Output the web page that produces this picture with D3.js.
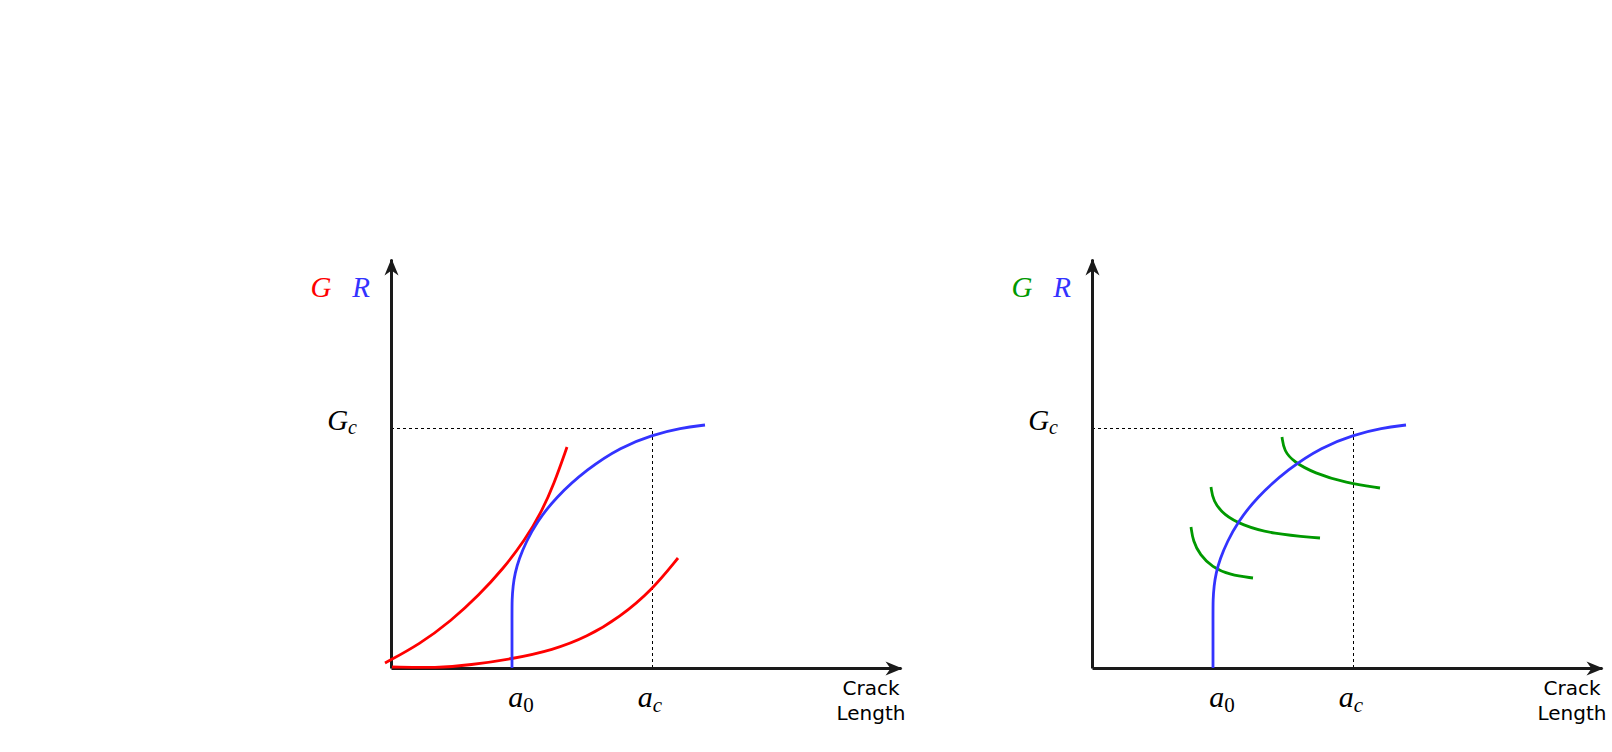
<!DOCTYPE html>
<html>
<head>
<meta charset="utf-8">
<script src="https://cdn.jsdelivr.net/npm/d3@7"></script>
<style>
	html, body { margin: 0; padding: 0; background: #fff; }
	svg { display: block; }
	.math { font-family: "Liberation Serif", "Times New Roman", serif; font-style: italic; }
	.axis-title { font-family: "Comic Sans MS", "DejaVu Sans", sans-serif; font-size: 20px; fill: #000; }
</style>
</head>
<body>
<svg id="chart" width="1612" height="752"></svg>
<script>
(function () {
	"use strict";

	// crack length (x) and energy release / resistance (y), arbitrary units
	var xMax = 5.1;
	var yMax = 4.09;
	var gcValue = 2.40;

	var crackTicks = [
		{ name: 'a', sub: '0', value: 1.21 },
		{ name: 'a', sub: 'c', value: 2.61 }
	];

	// R-curve (same material in both panels)
	var rCurve = [[1.21, 0], [1.21, 0.55], [1.21, 0.68], [1.22, 0.82], [1.24, 0.95], [1.28, 1.09],
		[1.35, 1.26], [1.46, 1.46], [1.64, 1.70], [1.96, 1.99], [2.30, 2.21], [2.61, 2.33], [2.90, 2.40], [3.14, 2.43]];

	// left panel: G curves for two load levels
	var gUpper = [[-0.06, 0.05], [0.29, 0.24], [0.60, 0.47], [0.88, 0.73], [1.12, 0.99],
		[1.34, 1.28], [1.50, 1.55], [1.63, 1.84], [1.76, 2.21]];
	var gLower = [[0.01, 0.01], [0.46, 0.00], [0.79, 0.03], [1.21, 0.09], [1.62, 0.18],
		[1.96, 0.31], [2.29, 0.51], [2.61, 0.78], [2.87, 1.10]];

	// right panel: G curves that fall with crack length
	var gFallA = [[0.99, 1.41], [1.01, 1.27], [1.08, 1.13], [1.20, 1.01], [1.38, 0.93], [1.61, 0.90]];
	var gFallB = [[1.19, 1.81], [1.21, 1.67], [1.32, 1.53], [1.50, 1.43], [1.80, 1.34], [2.28, 1.30]];
	var gFallC = [[1.90, 2.31], [1.92, 2.17], [2.02, 2.06], [2.22, 1.95], [2.54, 1.85], [2.88, 1.80]];

	var axisColor = '#1A1A1A';
	var rColor = '#3333FF';

	var panels = [
		{ left: 391, gColor: '#FF0000', gCurves: [gUpper, gLower] },
		{ left: 1092, gColor: '#009900', gCurves: [gFallA, gFallB, gFallC] }
	];

	var top = 259, width = 510, height = 409;
	var tickNudge = [9, -2];

	var svg = d3.select('#chart');

	var defs = svg.append('defs');
	[['arrow-x', 0], ['arrow-y', -90]].forEach(function (m) {
		defs.append('marker')
			.attr('id', m[0])
			.attr('markerUnits', 'userSpaceOnUse')
			.attr('viewBox', '-17 -8 18 16')
			.attr('refX', 0)
			.attr('refY', 0)
			.attr('markerWidth', 18)
			.attr('markerHeight', 16)
			.attr('orient', m[1])
			.append('path')
			.attr('d', 'M1,0L-16,-7L-11,0L-16,7Z')
			.attr('fill', axisColor);
	});

	var x = d3.scaleLinear().domain([0, xMax]).range([0, width]);
	var y = d3.scaleLinear().domain([0, yMax]).range([height, 0]);

	var line = d3.line()
		.x(function (d) { return x(d[0]); })
		.y(function (d) { return y(d[1]); })
		.curve(d3.curveBasis);

	panels.forEach(function (panel) {
		var g = svg.append('g')
			.attr('transform', 'translate(' + panel.left + ',' + top + ')');

		var acValue = crackTicks[1].value;

		// dashed guide to G_c and a_c, snapped to the pixel grid
		g.append('path')
			.attr('d', 'M' + x(0) + ',' + (Math.round(y(gcValue)) + 0.5) +
				'H' + (Math.round(x(acValue)) + 0.5) + 'V' + y(0))
			.attr('fill', 'none')
			.attr('stroke', '#000')
			.attr('stroke-width', 1)
			.attr('stroke-dasharray', '3,3');

		var xAxis = g.append('g')
			.attr('transform', 'translate(0,' + height + ')')
			.call(d3.axisBottom(x).tickValues([]).tickSizeOuter(0));
		xAxis.select('.domain')
			.attr('stroke', axisColor)
			.attr('stroke-width', 3)
			.attr('marker-end', 'url(#arrow-x)');

		var yAxis = g.append('g')
			.call(d3.axisLeft(y).tickValues([]).tickSizeOuter(0));
		yAxis.select('.domain')
			.attr('stroke', axisColor)
			.attr('stroke-width', 3)
			.attr('marker-end', 'url(#arrow-y)');

		g.selectAll('.g-curve')
			.data(panel.gCurves)
			.enter()
			.append('path')
			.classed('g-curve', true)
			.attr('d', line)
			.attr('fill', 'none')
			.attr('stroke', panel.gColor)
			.attr('stroke-width', 2.8);

		g.append('path')
			.datum(rCurve)
			.attr('d', line)
			.attr('fill', 'none')
			.attr('stroke', rColor)
			.attr('stroke-width', 2.8);

		// y label: G  R
		g.append('text')
			.classed('math', true)
			.attr('x', x(0) - 70)
			.attr('y', 38)
			.attr('text-anchor', 'middle')
			.attr('font-size', 29)
			.attr('fill', panel.gColor)
			.text('G');
		g.append('text')
			.classed('math', true)
			.attr('x', x(0) - 30)
			.attr('y', 38)
			.attr('text-anchor', 'middle')
			.attr('font-size', 29)
			.attr('fill', rColor)
			.text('R');

		var gc = g.append('text')
			.classed('math', true)
			.attr('x', x(0) - 34)
			.attr('y', y(gcValue) + 2)
			.attr('text-anchor', 'end')
			.attr('font-size', 29)
			.attr('fill', '#000');
		gc.append('tspan').text('G');
		gc.append('tspan').attr('dy', 4).attr('font-size', 20).text('c');

		var ticks = g.selectAll('.crack-tick')
			.data(crackTicks)
			.enter()
			.append('text')
			.classed('math crack-tick', true)
			.attr('x', function (d, i) { return x(d.value) + tickNudge[i]; })
			.attr('y', y(0) + 39)
			.attr('text-anchor', 'middle')
			.attr('font-size', 30)
			.attr('fill', '#000');
		ticks.append('tspan').text(function (d) { return d.name; });
		ticks.append('tspan')
			.attr('dy', 5)
			.attr('font-size', 21)
			.attr('font-style', function (d) { return /\d/.test(d.sub) ? 'normal' : 'italic'; })
			.text(function (d) { return d.sub; });

		var title = g.append('text')
			.classed('axis-title', true)
			.attr('text-anchor', 'middle');
		title.append('tspan')
			.attr('x', x(xMax) - 30)
			.attr('y', y(0) + 27)
			.text('Crack');
		title.append('tspan')
			.attr('x', x(xMax) - 30)
			.attr('y', y(0) + 52)
			.text('Length');
	});
}());
</script>
</body>
</html>
